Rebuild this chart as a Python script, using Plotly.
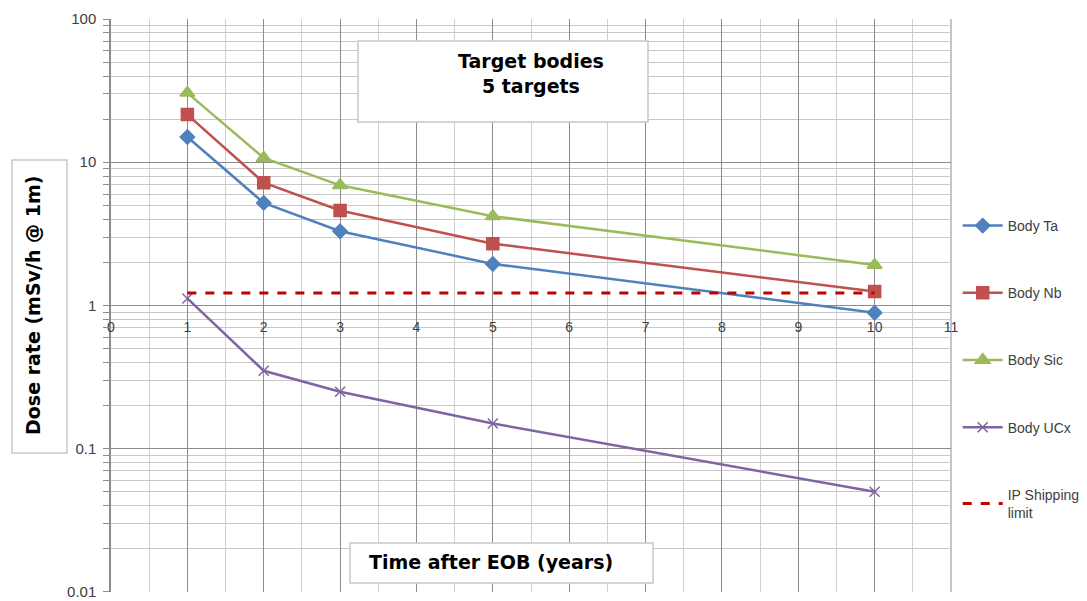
import plotly.graph_objects as go

years = [1, 2, 3, 5, 10]
body_ta = [15, 5.2, 3.3, 1.95, 0.89]
body_nb = [21.5, 7.2, 4.6, 2.7, 1.25]
body_sic = [30.5, 10.7, 6.9, 4.2, 1.92]
body_ucx = [1.12, 0.35, 0.25, 0.15, 0.05]
limit_x = [1, 10]
limit_y = [1.22, 1.22]

x_ticks = list(range(0, 12))
y_tickvals = [0.01, 0.1, 1, 10, 100]
y_ticktext = ["0.01", "0.1", "1", "10", "100"]

series = [
    ("Body Ta", body_ta, "#4f81bd", "diamond", 11),
    ("Body Nb", body_nb, "#c0504d", "square", 12),
    ("Body Sic", body_sic, "#9bbb59", "triangle-up", 13),
    ("Body UCx", body_ucx, "#8064a2", "x-thin", 10),
]

fig = go.Figure()
for name, vals, color, sym, size in series:
    fig.add_trace(go.Scatter(
        x=years, y=vals, name=name, mode="lines+markers", legendgroup=name,
        line=dict(color=color, width=2.5),
        marker=dict(symbol=sym, size=size, color=color,
                    line=dict(color=color, width=1.5)),
    ))
fig.add_trace(go.Scatter(
    x=limit_x, y=limit_y, name="IP Shipping<br>limit", mode="lines",
    legendgroup="limit",
    line=dict(color="#c00000", width=3, dash="dash"),
))

# page is offset by the 8px default body margin
OFF = 8
BOTTOM = 592
W, H = 1087 - OFF, 601 - OFF
L, T = 111 - OFF, 19 - OFF
pw, ph = 840, BOTTOM - 19
R = W - L - pw
B = H - T - ph


def px(x):
    return (x - 111) / pw


def py(y):
    return (BOTTOM - y) / ph


box_style = dict(type="rect", xref="paper", yref="paper",
                 fillcolor="white", line=dict(color="#c8c8c8", width=1.5))
shapes = [
    dict(x0=px(358), x1=px(648), y0=py(122), y1=py(41), **box_style),
    dict(x0=px(12), x1=px(67), y0=py(453), y1=py(160), **box_style),
    dict(x0=px(350), x1=px(653), y0=py(583), y1=py(543), **box_style),
]

bold = dict(family="DejaVu Sans", size=19, color="black")
annotations = [
    dict(x=px(531), y=py(73), xref="paper", yref="paper", showarrow=False,
         xanchor="center", yanchor="middle",
         text="<b>Target bodies<br>5 targets</b>", font=bold, align="center"),
    dict(x=px(33), y=py(306), xref="paper", yref="paper", showarrow=False,
         xanchor="center", yanchor="middle",
         text="<b>Dose rate (mSv/h @ 1m)</b>", font=bold, textangle=-90),
    dict(x=px(491), y=py(562), xref="paper", yref="paper", showarrow=False,
         xanchor="center", yanchor="middle",
         text="<b>Time after EOB (years)</b>", font=bold),
]

fig.update_layout(
    width=W, height=H,
    margin=dict(l=L, r=R, t=T, b=B, autoexpand=False),
    paper_bgcolor="white", plot_bgcolor="white",
    shapes=shapes, annotations=annotations,
    font=dict(family="Liberation Sans, Arial", color="#404040"),
    legend=dict(x=1.008, y=py(210), xanchor="left", yanchor="top",
                font=dict(size=14, color="#404040"), tracegroupgap=46,
                itemwidth=40, bgcolor="rgba(0,0,0,0)"),
    xaxis=dict(range=[0, 11], tickvals=x_ticks, ticktext=[str(v) for v in x_ticks],
               showgrid=True, gridcolor="#8c8c8c", gridwidth=1,
               minor=dict(dtick=0.5, showgrid=True, gridcolor="#d0d0d0", gridwidth=1),
               anchor="free", position=0.5, showline=False, zeroline=False,
               ticks="", tickfont=dict(size=14, color="#404040"), ticklabelstandoff=11,
               ticklabeloverflow="allow"),
    yaxis=dict(type="log", range=[-2.0005, 2.0], tickvals=y_tickvals, ticktext=y_ticktext,
               showgrid=True, gridcolor="#8c8c8c", gridwidth=1,
               minor=dict(dtick="D1", showgrid=True, gridcolor="#c8c8c8", gridwidth=1,
                          ticks="outside", ticklen=6, tickcolor="#8c8c8c"),
               ticks="outside", ticklen=6, tickcolor="#8c8c8c",
               showline=True, linecolor="#8c8c8c", linewidth=1.5,
               tickfont=dict(size=15, color="#404040"), ticklabelstandoff=4,
               ticklabeloverflow="allow", zeroline=False),
)
fig.add_shape(type="line", xref="paper", yref="paper", x0=1, x1=1, y0=0, y1=1,
              line=dict(color="#8c8c8c", width=1), layer="below")

fig.write_html("out.html")
